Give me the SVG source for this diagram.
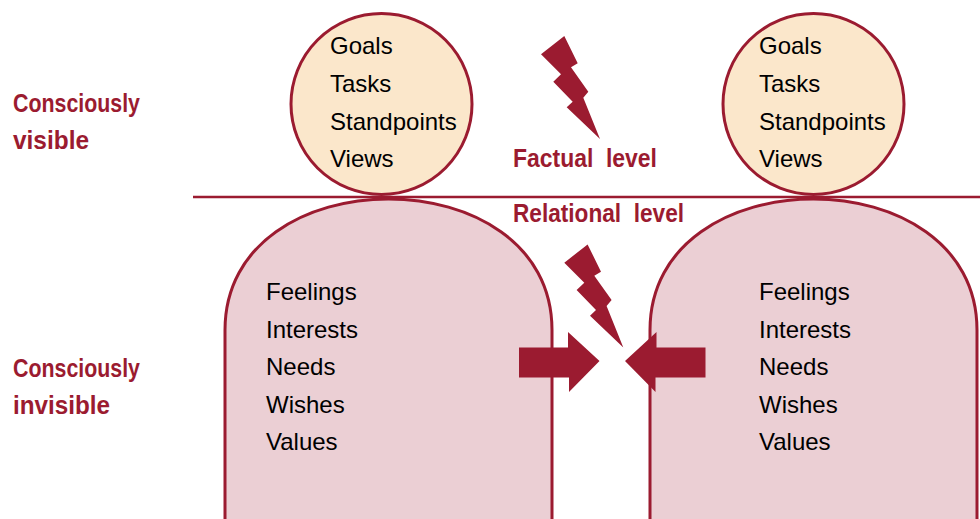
<svg xmlns="http://www.w3.org/2000/svg" xmlns:xlink="http://www.w3.org/1999/xlink" width="980" height="519" viewBox="0 0 980 519">
  <style>
    .head { fill: #fbe7cb; stroke: #9b1b30; stroke-width: 3; }
    .body { fill: #ebcfd4; stroke: #9b1b30; stroke-width: 3; }
    .item { font-family: "Liberation Sans", Arial, sans-serif; font-size: 24px; fill: #000; }
    .label { font-family: "Liberation Sans", Arial, sans-serif; font-size: 26px; font-weight: bold; fill: #9b1b30; }
    .mark { fill: #9b1b30; }
    .divider { stroke: #9b1b30; stroke-width: 2.5; fill: none; }
  </style>
  <defs>
    <!-- lightning bolt, drawn at its upper position -->
    <polygon id="bolt" points="541,54.3 564.3,36 577.7,63.3 571,67.3 588.3,91.7 583.3,97.7 600,139 566.7,107.3 572.7,101.7 553.3,81.7 561,74.3"/>
  </defs>

  <rect width="980" height="519" fill="#ffffff"/>

  <!-- level divider -->
  <line class="divider" x1="193" y1="197" x2="980" y2="197"/>

  <!-- left person -->
  <g id="body-left">
    <path class="body" d="M225,540 L225,330 C225,155.3 552,155.3 552,330 L552,540"/>
    <text class="item" x="266" y="300">Feelings</text>
    <text class="item" x="266" y="337.5">Interests</text>
    <text class="item" x="266" y="375">Needs</text>
    <text class="item" x="266" y="412.5">Wishes</text>
    <text class="item" x="266" y="450">Values</text>
  </g>
  <g id="head-left">
    <circle class="head" cx="381.5" cy="104" r="90.5"/>
    <text class="item" x="330" y="54">Goals</text>
    <text class="item" x="330" y="91.5">Tasks</text>
    <text class="item" x="330" y="129.5">Standpoints</text>
    <text class="item" x="330" y="167">Views</text>
  </g>

  <!-- right person -->
  <g id="body-right">
    <path class="body" d="M650,540 L650,330 C650,155.3 977,155.3 977,330 L977,540"/>
    <text class="item" x="759" y="300">Feelings</text>
    <text class="item" x="759" y="337.5">Interests</text>
    <text class="item" x="759" y="375">Needs</text>
    <text class="item" x="759" y="412.5">Wishes</text>
    <text class="item" x="759" y="450">Values</text>
  </g>
  <g id="head-right">
    <circle class="head" cx="813.5" cy="104" r="90.5"/>
    <text class="item" x="759" y="54">Goals</text>
    <text class="item" x="759" y="91.5">Tasks</text>
    <text class="item" x="759" y="129.5">Standpoints</text>
    <text class="item" x="759" y="167">Views</text>
  </g>

  <!-- side labels -->
  <g id="label-visible">
    <text class="label" x="13" y="112" textLength="127" lengthAdjust="spacingAndGlyphs">Consciously</text>
    <text class="label" x="13" y="148.5" textLength="76" lengthAdjust="spacingAndGlyphs">visible</text>
  </g>
  <g id="label-invisible">
    <text class="label" x="13" y="377" textLength="127" lengthAdjust="spacingAndGlyphs">Consciously</text>
    <text class="label" x="13" y="413.5" textLength="97" lengthAdjust="spacingAndGlyphs">invisible</text>
  </g>

  <!-- level labels -->
  <g id="label-factual">
    <text class="label" x="513" y="167" textLength="144" lengthAdjust="spacingAndGlyphs" xml:space="preserve">Factual  level</text>
  </g>
  <g id="label-relational">
    <text class="label" x="513" y="222" textLength="171" lengthAdjust="spacingAndGlyphs" xml:space="preserve">Relational  level</text>
  </g>

  <!-- conflict connectors: bolts and colliding arrows -->
  <g id="connectors">
    <use class="mark" xlink:href="#bolt"/>
    <use class="mark" xlink:href="#bolt" transform="translate(23.3,208.4)"/>
    <polygon class="mark" points="519,347.5 568,347.5 568,332 599.5,361 569,392 569,377.5 519,377.5"/>
    <polygon class="mark" points="705.5,347.5 656.5,347.5 656.5,332 625,361 655.5,392 655.5,377.5 705.5,377.5"/>
  </g>
</svg>
